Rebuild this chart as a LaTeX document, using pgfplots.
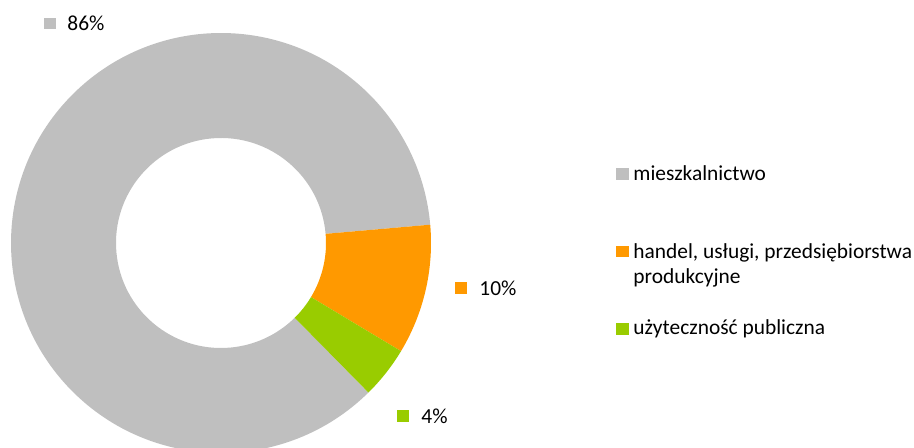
\documentclass[border=0pt]{standalone}
\usepackage{pgfplots}
\pgfplotsset{compat=1.18}
\usepackage{fontspec}
\setmainfont{Carlito}

\definecolor{cgray}{HTML}{BFBFBF}
\definecolor{corange}{HTML}{FF9900}
\definecolor{cgreen}{HTML}{99CC00}

\begin{document}
\begin{tikzpicture}
  \begin{axis}[
      width=457pt, height=224pt, scale only axis,
      xmin=0, xmax=914, ymin=0, ymax=448,
      hide axis, clip=true,
    ]
    % donut: 86 / 10 / 4 percent, clockwise from -45.4 deg
    \fill[cgray] ([shift={(314.6:105pt)}]axis cs:221,205) arc[start angle=314.6, end angle=5, radius=105pt]
      -- ([shift={(5:52.5pt)}]axis cs:221,205) arc[start angle=5, end angle=314.6, radius=52.5pt] -- cycle;
    \fill[corange] ([shift={(5:105pt)}]axis cs:221,205) arc[start angle=5, end angle=-31, radius=105pt]
      -- ([shift={(-31:52.5pt)}]axis cs:221,205) arc[start angle=-31, end angle=5, radius=52.5pt] -- cycle;
    \fill[cgreen] ([shift={(-31:105pt)}]axis cs:221,205) arc[start angle=-31, end angle=-45.4, radius=105pt]
      -- ([shift={(-45.4:52.5pt)}]axis cs:221,205) arc[start angle=-45.4, end angle=-31, radius=52.5pt] -- cycle;

    % data labels
    \fill[cgray] (axis cs:44,430) rectangle (axis cs:56,419);
    \node[anchor=base west, inner sep=0pt, font=\fontsize{10.7}{13}\selectfont] at (axis cs:67,417) {86\%};
    \fill[corange] (axis cs:455,166) rectangle (axis cs:467,154);
    \node[anchor=base west, inner sep=0pt, font=\fontsize{10.7}{13}\selectfont] at (axis cs:479,152) {10\%};
    \fill[cgreen] (axis cs:397,38) rectangle (axis cs:409,26);
    \node[anchor=base west, inner sep=0pt, font=\fontsize{10.7}{13}\selectfont] at (axis cs:421,24) {4\%};

    % legend
    \fill[cgray] (axis cs:616,280) rectangle (axis cs:629,268);
    \node[anchor=base west, inner sep=0pt, font=\fontsize{10.7}{13}\selectfont] at (axis cs:633,267.3) {mieszkalnictwo};
    \fill[corange] (axis cs:616,202) rectangle (axis cs:629,191);
    \node[anchor=base west, inner sep=0pt, font=\fontsize{10.7}{13}\selectfont] at (axis cs:633,189.7) {handel, usługi, przedsiębiorstwa};
    \node[anchor=base west, inner sep=0pt, font=\fontsize{10.7}{13}\selectfont] at (axis cs:633,164) {produkcyjne};
    \fill[cgreen] (axis cs:616,125) rectangle (axis cs:629,113);
    \node[anchor=base west, inner sep=0pt, font=\fontsize{10.7}{13}\selectfont] at (axis cs:633,113) {użyteczność publiczna};
  \end{axis}
  \pgfresetboundingbox
  \useasboundingbox (0,0) rectangle (457pt,224pt);
\end{tikzpicture}
\end{document}
